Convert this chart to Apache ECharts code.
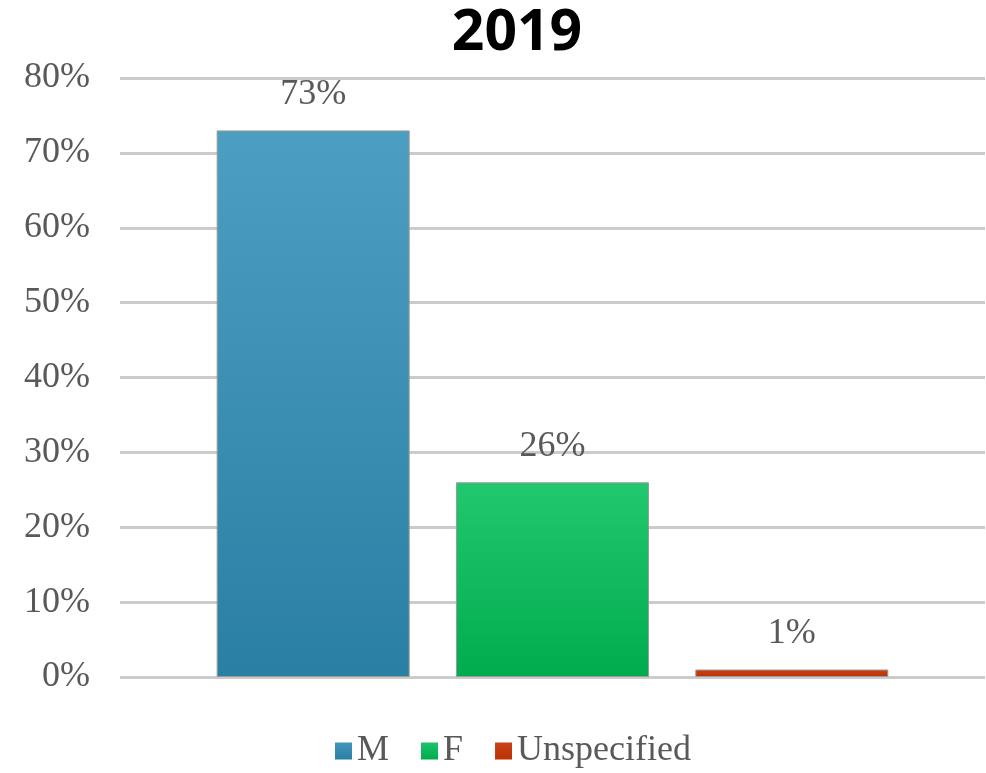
<!DOCTYPE html>
<html>
<head>
<meta charset="utf-8">
<script src="https://cdn.jsdelivr.net/npm/echarts@6/dist/echarts.min.js"></script>
<style>
  html, body { margin: 0; padding: 0; background: #ffffff; }
  #chart { width: 986px; height: 773px; }
</style>
</head>
<body>
<div id="chart"></div>
<script>
// Share of respondents by gender, 2019 (percent)
const titleText = '2019';
const categories = ['2019'];
const seriesNames = ['M', 'F', 'Unspecified'];
const maleValues = [73];
const femaleValues = [26];
const unspecifiedValues = [1];
const yTicks = [0, 10, 20, 30, 40, 50, 60, 70, 80];

const serif = '"Liberation Serif", "DejaVu Serif", serif';
const textGray = '#595959';

function vGrad(top, bottom) {
  return new echarts.graphic.LinearGradient(0, 0, 0, 1, [
    { offset: 0, color: top },
    { offset: 1, color: bottom }
  ]);
}

const palette = [
  vGrad('#4d9fc1', '#2a7fa4'),
  vGrad('#22c86e', '#00ac4e'),
  vGrad('#c9401c', '#bb3300')
];
const legendColors = [
  vGrad('#4296bb', '#2a7fa4'),
  vGrad('#1ec26a', '#00ac4e'),
  vGrad('#c9401c', '#bb3300')
];

const seriesData = [maleValues, femaleValues, unspecifiedValues];

const chart = echarts.init(document.getElementById('chart'), null, { renderer: 'canvas' });

chart.setOption({
  animation: false,
  backgroundColor: '#ffffff',
  title: {
    text: titleText,
    left: 512,
    top: 0,
    textAlign: 'center',
    textStyle: {
      fontFamily: '"Open Sans", "Liberation Sans", sans-serif',
      fontWeight: 'bold',
      fontSize: 57,
      color: '#000000'
    }
  },
  legend: {
    data: seriesNames.map((n, i) => ({
      name: n,
      itemStyle: { color: legendColors[i], borderWidth: 0 }
    })),
    bottom: -1,
    left: 330,
    icon: 'rect',
    itemWidth: 17,
    itemHeight: 17,
    itemGap: 32,
    textStyle: { fontFamily: serif, fontSize: 36, color: textGray }
  },
  grid: { left: 120, right: 1, top: 78, bottom: 96, containLabel: false },
  xAxis: {
    type: 'category',
    data: categories,
    axisLine: { show: false },
    axisTick: { show: false },
    axisLabel: { show: false }
  },
  yAxis: {
    type: 'value',
    min: yTicks[0],
    max: yTicks[yTicks.length - 1],
    interval: 10,
    axisLine: { show: false },
    axisTick: { show: false },
    axisLabel: {
      margin: 30,
      formatter: v => v + '%',
      fontFamily: serif,
      fontSize: 36,
      color: textGray
    },
    splitLine: { lineStyle: { color: '#cbcbcb', width: 3 } }
  },
  series: seriesNames.map((name, i) => ({
    name: name,
    type: 'bar',
    data: seriesData[i],
    barWidth: 193,
    barGap: '24%',
    itemStyle: { color: palette[i], borderColor: '#9a9a9a', borderWidth: 1 },
    label: {
      show: true,
      position: 'top',
      distance: 18,
      formatter: p => p.value + '%',
      fontFamily: serif,
      fontSize: 36,
      color: textGray
    }
  }))
});
</script>
</body>
</html>
